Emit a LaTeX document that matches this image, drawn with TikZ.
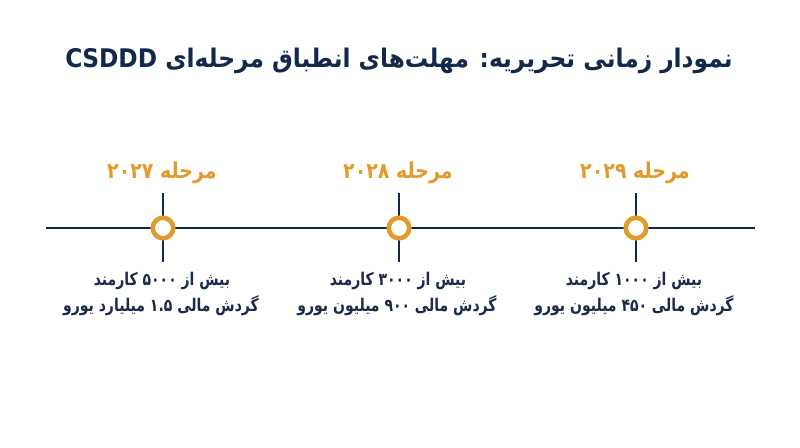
\documentclass[tikz,border=0pt]{standalone}
\usepackage{fontspec}
\TeXXeTstate=1
\newfontfamily\arabicbold[Script=Arabic]{DejaVu Sans Bold}
\definecolor{navy}{HTML}{13294B}
\definecolor{textnavy}{HTML}{1B2A48}
\definecolor{gold}{HTML}{E39A2D}
\newcommand{\rtl}[1]{\beginR #1\endR}
\newcommand{\tallT}[1]{\scalebox{1}[1.1]{\rtl{#1}}}
\newcommand{\tallA}[1]{\scalebox{1}[1.15]{\rtl{#1}}}
\newcommand{\tallB}[1]{\scalebox{1}[1.25]{\rtl{#1}}}
\begin{document}
\begin{tikzpicture}[x=1pt,y=-1pt,
  titletext/.style={text=navy,font=\arabicbold\fontsize{23.3}{28}\selectfont,inner sep=0pt,anchor=base},
  phasetext/.style={text=gold,font=\arabicbold\fontsize{19}{22}\selectfont,inner sep=0pt,anchor=base},
  desctext/.style={text=textnavy,font=\arabicbold\fontsize{14}{18}\selectfont,inner sep=0pt,anchor=base},
  axisline/.style={draw=navy,line width=2.9pt},
  milestone/.style={circle,draw=gold,fill=white,line width=4.6pt,minimum size=20.5pt,inner sep=0pt}]
\useasboundingbox (0,0) rectangle (800,447);
\fill[white] (0,0) rectangle (800,447);
\node[titletext] (title) at (399,67) {\tallT{نمودار زمانی تحریریه: مهلت‌های انطباق مرحله‌ای CSDDD}};
\coordinate (left) at (46,228);
\coordinate (right) at (755,228);
\draw[axisline] (left) -- (right);
\foreach \n/\x in {a/163,b/399,c/636}{
  \coordinate (\n top) at (\x,193);
  \coordinate (\n bot) at (\x,262);
  \draw[axisline] (\n top) -- (\n bot);
  \node[milestone] (\n) at (\x,228) {};
}
\node[phasetext] (pa) at (162,178) {\tallA{مرحله ۲۰۲۷}};
\node[phasetext] (pb) at (398,178) {\tallA{مرحله ۲۰۲۸}};
\node[phasetext] (pc) at (635,178) {\tallA{مرحله ۲۰۲۹}};
\node[desctext] (da1) at (162,285) {\tallB{بیش از ۵۰۰۰ کارمند}};
\node[desctext] (da2) at (161,311) {\tallB{گردش مالی ۱.۵ میلیارد یورو}};
\node[desctext] (db1) at (398,285) {\tallB{بیش از ۳۰۰۰ کارمند}};
\node[desctext] (db2) at (397,311) {\tallB{گردش مالی ۹۰۰ میلیون یورو}};
\node[desctext] (dc1) at (634,285) {\tallB{بیش از ۱۰۰۰ کارمند}};
\node[desctext] (dc2) at (634,311) {\tallB{گردش مالی ۴۵۰ میلیون یورو}};
\end{tikzpicture}
\end{document}
